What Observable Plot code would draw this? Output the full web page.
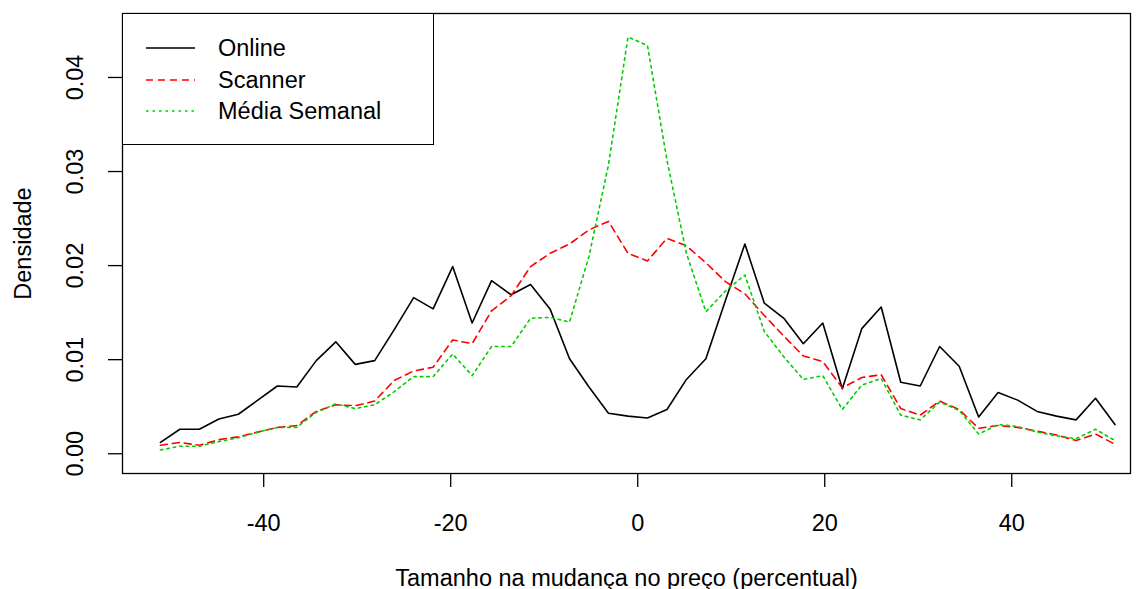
<!DOCTYPE html>
<html>
<head>
<meta charset="utf-8">
<script src="https://cdn.jsdelivr.net/npm/d3@7"></script>
<script src="https://cdn.jsdelivr.net/npm/@observablehq/plot@0.6"></script>
<style>
  html, body { margin: 0; padding: 0; background: #fff; }
  #chart { position: relative; width: 1141px; height: 589px; font-family: 'Liberation Sans', Arial, Helvetica, sans-serif; }
  #chart svg { display: block; }
  .legend { position: absolute; left: 122px; top: 13px; width: 312px; height: 132px; box-sizing: border-box;
            border: 1.3px solid #000; background: #fff; font-size: 23.5px; color: #000; }
  .legend .row { position: absolute; left: 0; height: 0; }
  .legend .row svg { position: absolute; left: 23px; top: -2px; overflow: visible; }
  .legend .row span { position: absolute; left: 95px; top: -14px; white-space: nowrap; line-height: 28px; }
</style>
</head>
<body>
<div id="chart"></div>
<script>
// Price-change bins (percent) and the density of each source in every bin
const priceChange = [-51.04, -48.96, -46.88, -44.79, -42.71, -40.63, -38.54, -36.46, -34.38, -32.29,
                     -30.21, -28.13, -26.04, -23.96, -21.88, -19.79, -17.71, -15.63, -13.54, -11.46,
                      -9.38,  -7.29,  -5.21,  -3.13,  -1.04,   1.04,   3.13,   5.21,   7.29,   9.38,
                      11.46,  13.54,  15.63,  17.71,  19.79,  21.88,  23.96,  26.04,  28.13,  30.21,
                      32.29,  34.38,  36.46,  38.54,  40.63,  42.71,  44.79,  46.88,  48.96,  51.04];

const online = [0.0012, 0.0026, 0.0026, 0.0037, 0.0042, 0.0057, 0.0072, 0.0071, 0.0099, 0.0119,
                0.0095, 0.0099, 0.0132, 0.0166, 0.0154, 0.0199, 0.0139, 0.0184, 0.0169, 0.0180,
                0.0154, 0.0101, 0.0071, 0.0043, 0.0040, 0.0038, 0.0047, 0.0079, 0.0101, 0.0163,
                0.0223, 0.0160, 0.0144, 0.0117, 0.0139, 0.0069, 0.0133, 0.0156, 0.0076, 0.0072,
                0.0114, 0.0093, 0.0039, 0.0065, 0.0057, 0.0045, 0.0040, 0.0036, 0.0059, 0.0031];

const scanner = [0.0009, 0.0012, 0.0009, 0.0015, 0.0018, 0.0023, 0.0028, 0.0030, 0.0045, 0.0052,
                 0.0051, 0.0056, 0.0078, 0.0088, 0.0092, 0.0121, 0.0117, 0.0152, 0.0168, 0.0199,
                 0.0213, 0.0223, 0.0238, 0.0247, 0.0213, 0.0205, 0.0229, 0.0221, 0.0203, 0.0183,
                 0.0170, 0.0147, 0.0125, 0.0104, 0.0098, 0.0070, 0.0081, 0.0084, 0.0048, 0.0041,
                 0.0056, 0.0047, 0.0027, 0.0030, 0.0028, 0.0024, 0.0020, 0.0014, 0.0021, 0.0010];

const weeklyMean = [0.0004, 0.0008, 0.0008, 0.0013, 0.0017, 0.0023, 0.0028, 0.0028, 0.0044, 0.0053,
                    0.0048, 0.0052, 0.0066, 0.0082, 0.0082, 0.0106, 0.0083, 0.0114, 0.0114, 0.0144,
                    0.0145, 0.0140, 0.0210, 0.0307, 0.0443, 0.0434, 0.0312, 0.0213, 0.0151, 0.0173,
                    0.0190, 0.0130, 0.0103, 0.0079, 0.0083, 0.0047, 0.0073, 0.0080, 0.0041, 0.0036,
                    0.0055, 0.0046, 0.0021, 0.0031, 0.0029, 0.0023, 0.0019, 0.0016, 0.0026, 0.0014];

const seriesNames  = ["Online", "Scanner", "Média Semanal"];
const seriesValues = [online, scanner, weeklyMean];
const seriesColors = ["#000000", "#ff0000", "#00cd00"];
const seriesDash   = [undefined, "7,5", "2.5,4"];

const xTicks = [-40, -20, 0, 20, 40];
const yTicks = [0.00, 0.01, 0.02, 0.03, 0.04];
const xTitle = "Tamanho na mudança no preço (percentual)";
const yTitle = "Densidade";

// Long table: one row per (series, bin)
const rows = [];
seriesValues.forEach((vals, s) => vals.forEach((v, i) => rows.push({ serie: seriesNames[s], x: priceChange[i], y: v })));

const fontFamily = "'Liberation Sans', Arial, Helvetica, sans-serif";

const plot = Plot.plot({
  width: 1141,
  height: 589,
  marginLeft: 122,
  marginRight: 11,
  marginTop: 13,
  marginBottom: 116,
  style: { fontFamily, fontSize: "23.5px", color: "#000", background: "#fff", overflow: "visible" },
  x: { domain: [-55.1, 52.7] },
  y: { domain: [-0.0021, 0.0468] },
  marks: [
    Plot.axisX({
      ticks: xTicks, tickSize: 14, tickPadding: 27, strokeWidth: 1.3,
      tickFormat: d => String(d),
      label: xTitle, labelAnchor: "center", labelOffset: 112, labelArrow: "none"
    }),
    Plot.axisY({
      ticks: yTicks, tickSize: 14, tickPadding: 26, strokeWidth: 1.3, tickRotate: -90,
      tickFormat: d3.format(".2f"),
      label: yTitle, labelAnchor: "center", labelOffset: 108, labelArrow: "none"
    }),
    ...seriesNames.map((name, s) =>
      Plot.line(rows.filter(r => r.serie === name), {
        x: "x", y: "y",
        stroke: seriesColors[s], strokeWidth: 1.6,
        strokeDasharray: seriesDash[s]
      })
    ),
    Plot.frame({ stroke: "#000", strokeWidth: 1.3 })
  ]
});

const chart = document.getElementById("chart");
chart.appendChild(plot);

// Legend in the top-left corner of the plotting region
const legend = document.createElement("div");
legend.className = "legend";
const rowTops = [34, 66, 97];
seriesNames.forEach((name, s) => {
  const row = document.createElement("div");
  row.className = "row";
  row.style.top = rowTops[s] + "px";
  const dash = seriesDash[s] ? ` stroke-dasharray="${seriesDash[s]}"` : "";
  row.innerHTML =
    `<svg width="49" height="4"><line x1="0" y1="2" x2="49" y2="2" stroke="${seriesColors[s]}" stroke-width="1.6"${dash}/></svg>` +
    `<span>${name}</span>`;
  legend.appendChild(row);
});
chart.appendChild(legend);
</script>
</body>
</html>
